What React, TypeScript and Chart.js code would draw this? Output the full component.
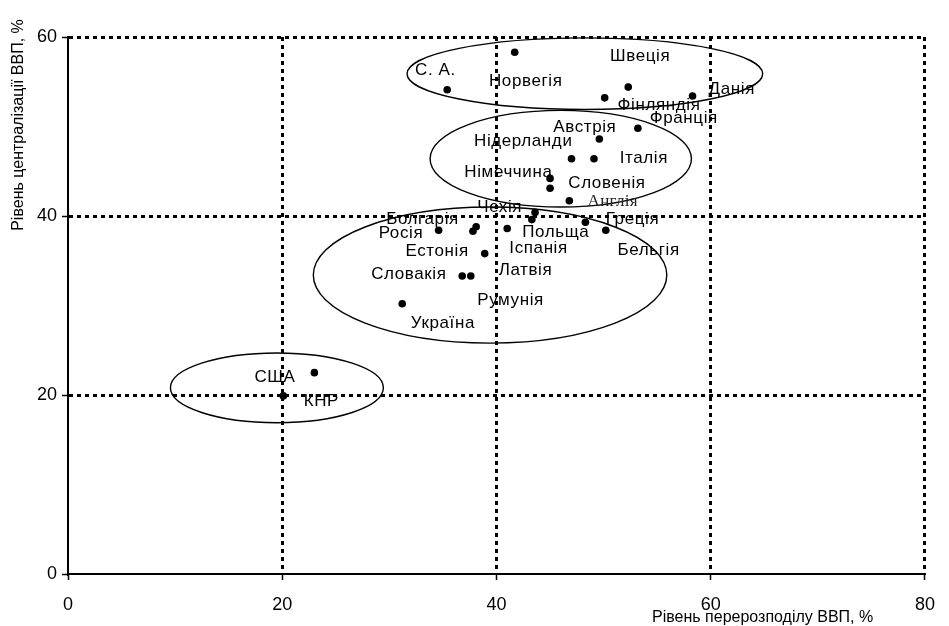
import { useEffect, useRef } from 'react';
import { Chart, registerables } from 'chart.js';

Chart.register(...registerables);

// Scatter data: redistribution (x, %) vs centralization (y, %)
const pointX = [35.4, 41.7, 52.3, 50.1, 58.3, 53.2, 49.6, 47.0, 49.1, 45.0, 45.0, 46.8, 43.6, 43.3, 48.3, 50.2, 41.0, 37.8, 38.1, 34.6, 38.9, 36.8, 37.6, 31.2, 23.0, 20.1];
const pointY = [54.1, 58.3, 54.4, 53.2, 53.4, 49.8, 48.6, 46.4, 46.4, 44.2, 43.1, 41.7, 40.4, 39.6, 39.3, 38.4, 38.6, 38.3, 38.8, 38.4, 35.8, 33.3, 33.3, 30.2, 22.5, 19.9];

// Country labels and their anchor in data units
const labelNames = ['С. А.', 'Норвегія', 'Швеція', 'Данія', 'Фінляндія', 'Франція', 'Австрія', 'Нідерланди', 'Італія', 'Німеччина', 'Словенія', 'Англія', 'Чехія', 'Болгарія', 'Греція', 'Росія', 'Польща', 'Естонія', 'Іспанія', 'Бельгія', 'Словакія', 'Латвія', 'Румунія', 'Україна', 'США', 'КНР'];
const labelX = [32.4, 39.3, 50.6, 59.8, 51.3, 54.3, 45.3, 37.9, 51.5, 37.0, 46.7, 48.5, 38.2, 29.7, 50.2, 29.0, 42.4, 31.5, 41.2, 51.3, 28.3, 40.2, 38.2, 32.0, 17.4, 22.0];
const labelY = [56.3, 55.0, 57.8, 54.1, 52.4, 50.9, 49.9, 48.3, 46.5, 44.9, 43.7, 41.6, 41.0, 39.6, 39.6, 38.1, 38.2, 36.0, 36.4, 36.2, 33.5, 33.9, 30.6, 28.0, 22.0, 19.3];

// Group ellipses (centre and semi-axes in data units)
const ellipseCx = [48.25, 46.0, 39.4, 19.5];
const ellipseCy = [55.9, 46.4, 33.4, 20.8];
const ellipseRx = [16.6, 12.2, 16.5, 9.94];
const ellipseRy = [4.0, 5.4, 7.6, 3.9];

const xTicks = [0, 20, 40, 60, 80];
const yTicks = [0, 20, 40, 60];

const xTitle = 'Рівень перерозподілу ВВП, %';
const yTitle = 'Рівень централізації ВВП, %';

const serifLabels = ['Англія'];

const overlayPlugin = {
  id: 'overlay',
  afterDatasetsDraw(chart: any) {
    const ctx = chart.ctx;
    const xs = chart.scales.x;
    const ys = chart.scales.y;
    ctx.save();
    // ellipses
    ctx.strokeStyle = '#000';
    ctx.lineWidth = 1.4;
    ctx.setLineDash([]);
    for (let i = 0; i < ellipseCx.length; i++) {
      const cx = xs.getPixelForValue(ellipseCx[i]);
      const cy = ys.getPixelForValue(ellipseCy[i]);
      const rx = Math.abs(xs.getPixelForValue(ellipseCx[i] + ellipseRx[i]) - cx);
      const ry = Math.abs(ys.getPixelForValue(ellipseCy[i] + ellipseRy[i]) - cy);
      ctx.beginPath();
      ctx.ellipse(cx, cy, rx, ry, 0, 0, Math.PI * 2);
      ctx.stroke();
    }
    // labels
    ctx.textAlign = 'left';
    ctx.textBaseline = 'middle';
    for (let i = 0; i < labelNames.length; i++) {
      const serif = serifLabels.includes(labelNames[i]);
      ctx.font = serif ? '17px "Liberation Serif"' : '17px "Liberation Sans"';
      (ctx as any).letterSpacing = serif ? '0.3px' : '0.6px';
      ctx.fillStyle = serif ? '#222' : '#000';
      ctx.fillText(labelNames[i], xs.getPixelForValue(labelX[i]), ys.getPixelForValue(labelY[i]));
    }
    (ctx as any).letterSpacing = '0px';
    ctx.restore();
  },
  afterDraw(chart: any) {
    const ctx = chart.ctx;
    ctx.save();
    ctx.fillStyle = '#000';
    ctx.font = '16px "Liberation Sans"';
    ctx.textBaseline = 'middle';
    ctx.textAlign = 'left';
    ctx.fillText(xTitle, 652, 618);
    ctx.translate(19, 125);
    ctx.rotate(-Math.PI / 2);
    ctx.textAlign = 'center';
    ctx.fillText(yTitle, 0, 0);
    ctx.restore();
  },
};

export default function App() {
  const ref = useRef<HTMLCanvasElement | null>(null);
  useEffect(() => {
    if (!ref.current) return;
    const data = pointX.map((x, i) => ({ x, y: pointY[i] }));
    const gridColor = (c: any) => (c.tick && c.tick.value === 0 ? 'rgba(0,0,0,0)' : '#000');
    const chart = new Chart(ref.current, {
      type: 'scatter',
      data: {
        datasets: [
          {
            data,
            pointRadius: 3.8,
            pointHoverRadius: 3.8,
            backgroundColor: '#000',
            borderColor: '#000',
            borderWidth: 0,
          },
        ],
      },
      options: {
        animation: false,
        responsive: true,
        maintainAspectRatio: false,
        layout: { padding: { left: 0, top: 37, right: 12, bottom: 0 } },
        plugins: { legend: { display: false }, tooltip: { enabled: false } },
        scales: {
          x: {
            type: 'linear',
            min: 0,
            max: 80,
            afterBuildTicks: (s: any) => {
              s.ticks = xTicks.map((v) => ({ value: v }));
            },
            afterFit: (s: any) => {
              s.height = 52;
            },
            ticks: {
              color: '#000',
              font: { family: 'Liberation Sans', size: 18 },
              padding: 14,
              maxRotation: 0,
            },
            grid: {
              color: gridColor,
              lineWidth: 3,
              drawTicks: true,
              tickLength: 6,
              tickColor: '#000',
              tickWidth: 1.5,
              tickBorderDash: [],
            } as any,
            border: { display: true, color: '#000', width: 2, dash: [4, 4] },
          },
          y: {
            type: 'linear',
            min: 0,
            max: 60,
            afterBuildTicks: (s: any) => {
              s.ticks = yTicks.map((v) => ({ value: v }));
            },
            afterFit: (s: any) => {
              s.width = 68;
            },
            ticks: {
              color: '#000',
              font: { family: 'Liberation Sans', size: 18 },
              padding: 5,
            },
            grid: {
              color: gridColor,
              lineWidth: 3,
              drawTicks: true,
              tickLength: 6,
              tickColor: '#000',
              tickWidth: 1.5,
              tickBorderDash: [],
            } as any,
            border: { display: true, color: '#000', width: 2, dash: [4, 4] },
          },
        },
      },
      plugins: [overlayPlugin],
    });
    return () => chart.destroy();
  }, []);
  return (
    <div style={{ position: 'fixed', left: 0, top: 0, width: 949, height: 626, background: '#fff' }}>
      <canvas ref={ref} />
    </div>
  );
}
